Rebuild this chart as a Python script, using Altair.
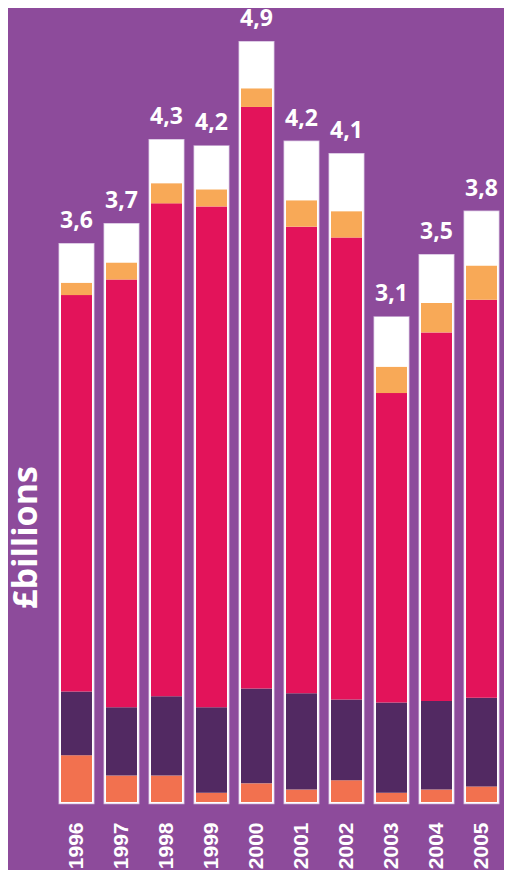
import altair as alt
import pandas as pd

years = ["1996", "1997", "1998", "1999", "2000", "2001", "2002", "2003", "2004", "2005"]
seg_coral = [0.30, 0.17, 0.17, 0.06, 0.12, 0.08, 0.14, 0.06, 0.08, 0.10]
seg_dark = [0.41, 0.44, 0.51, 0.55, 0.61, 0.62, 0.52, 0.58, 0.57, 0.57]
seg_magenta = [2.55, 2.75, 3.17, 3.22, 3.74, 3.00, 2.97, 1.99, 2.37, 2.56]
seg_orange = [0.08, 0.11, 0.13, 0.11, 0.12, 0.17, 0.17, 0.17, 0.19, 0.22]
seg_white = [0.24, 0.24, 0.27, 0.27, 0.29, 0.37, 0.36, 0.31, 0.30, 0.34]
total_labels = ["3,6", "3,7", "4,3", "4,2", "4,9", "4,2", "4,1", "3,1", "3,5", "3,8"]

series_names = ["Segment 1", "Segment 2", "Segment 3", "Segment 4", "Segment 5"]
series_colors = ["#F2714F", "#522962", "#E3135A", "#F8A957", "#FFFFFF"]
series_values = [seg_coral, seg_dark, seg_magenta, seg_orange, seg_white]

rows = []
for k, (name, vals) in enumerate(zip(series_names, series_values)):
    for y, v in zip(years, vals):
        rows.append({"year": y, "series": name, "value": v, "order": k})
df = pd.DataFrame(rows)

totals = pd.DataFrame({
    "year": years,
    "total": [sum(v) for v in zip(*series_values)],
    "label": total_labels,
})

x_enc = alt.X(
    "year:N",
    title=None,
    scale=alt.Scale(paddingInner=0, paddingOuter=0),
    axis=alt.Axis(
        labelAngle=270, labelAlign="right", labelBaseline="middle",
        labelPadding=20, ticks=False, tickSize=0, domain=False, grid=False,
        labelFont="Liberation Sans", labelFontSize=21,
        labelFontWeight="bold", labelColor="white",
    ),
)
y_scale = alt.Scale(domain=[0, 5.1], nice=False, zero=True)
y_axis = alt.Axis(
    labels=False, ticks=False, domain=False, grid=False,
    title="£billions", titleX=-18, titleY=528, titleAngle=270,
    titleAlign="center", titleBaseline="alphabetic",
    titleFont="Open Sans", titleFontSize=34, titleFontWeight="bold",
    titleColor="white",
)

edge = alt.Chart(totals).mark_bar(
    size=31.5, fill="white", stroke="#D2BADC", strokeWidth=4.5
).encode(
    x=x_enc,
    y=alt.Y("total:Q", scale=y_scale, axis=y_axis),
)

outer = alt.Chart(totals).mark_bar(
    size=31.5, fill="white", stroke="white", strokeWidth=3
).encode(
    x=x_enc,
    y=alt.Y("total:Q", scale=y_scale, axis=y_axis),
)

segments = alt.Chart(df).mark_bar(size=31).encode(
    x=x_enc,
    y=alt.Y("value:Q", stack="zero", scale=y_scale, axis=y_axis),
    color=alt.Color("series:N", scale=alt.Scale(domain=series_names, range=series_colors), legend=None),
    order=alt.Order("order:Q", sort="ascending"),
)

text = alt.Chart(totals).mark_text(
    dy=-17, baseline="alphabetic", align="center",
    font="Open Sans", fontSize=23, fontWeight="bold", color="white",
).encode(
    x=x_enc,
    y=alt.Y("total:Q", scale=y_scale, axis=y_axis),
    text="label:N",
)

chart = alt.layer(edge, outer, segments, text).properties(
    width=450, height=793,
    padding={"left": 46, "top": 1, "right": 0, "bottom": 68},
    autosize=alt.AutoSizeParams(type="none"),
    background="#8D4B9B",
).configure_view(stroke=None)

chart.save("out.html", embed_options={"renderer": "svg", "actions": False})
